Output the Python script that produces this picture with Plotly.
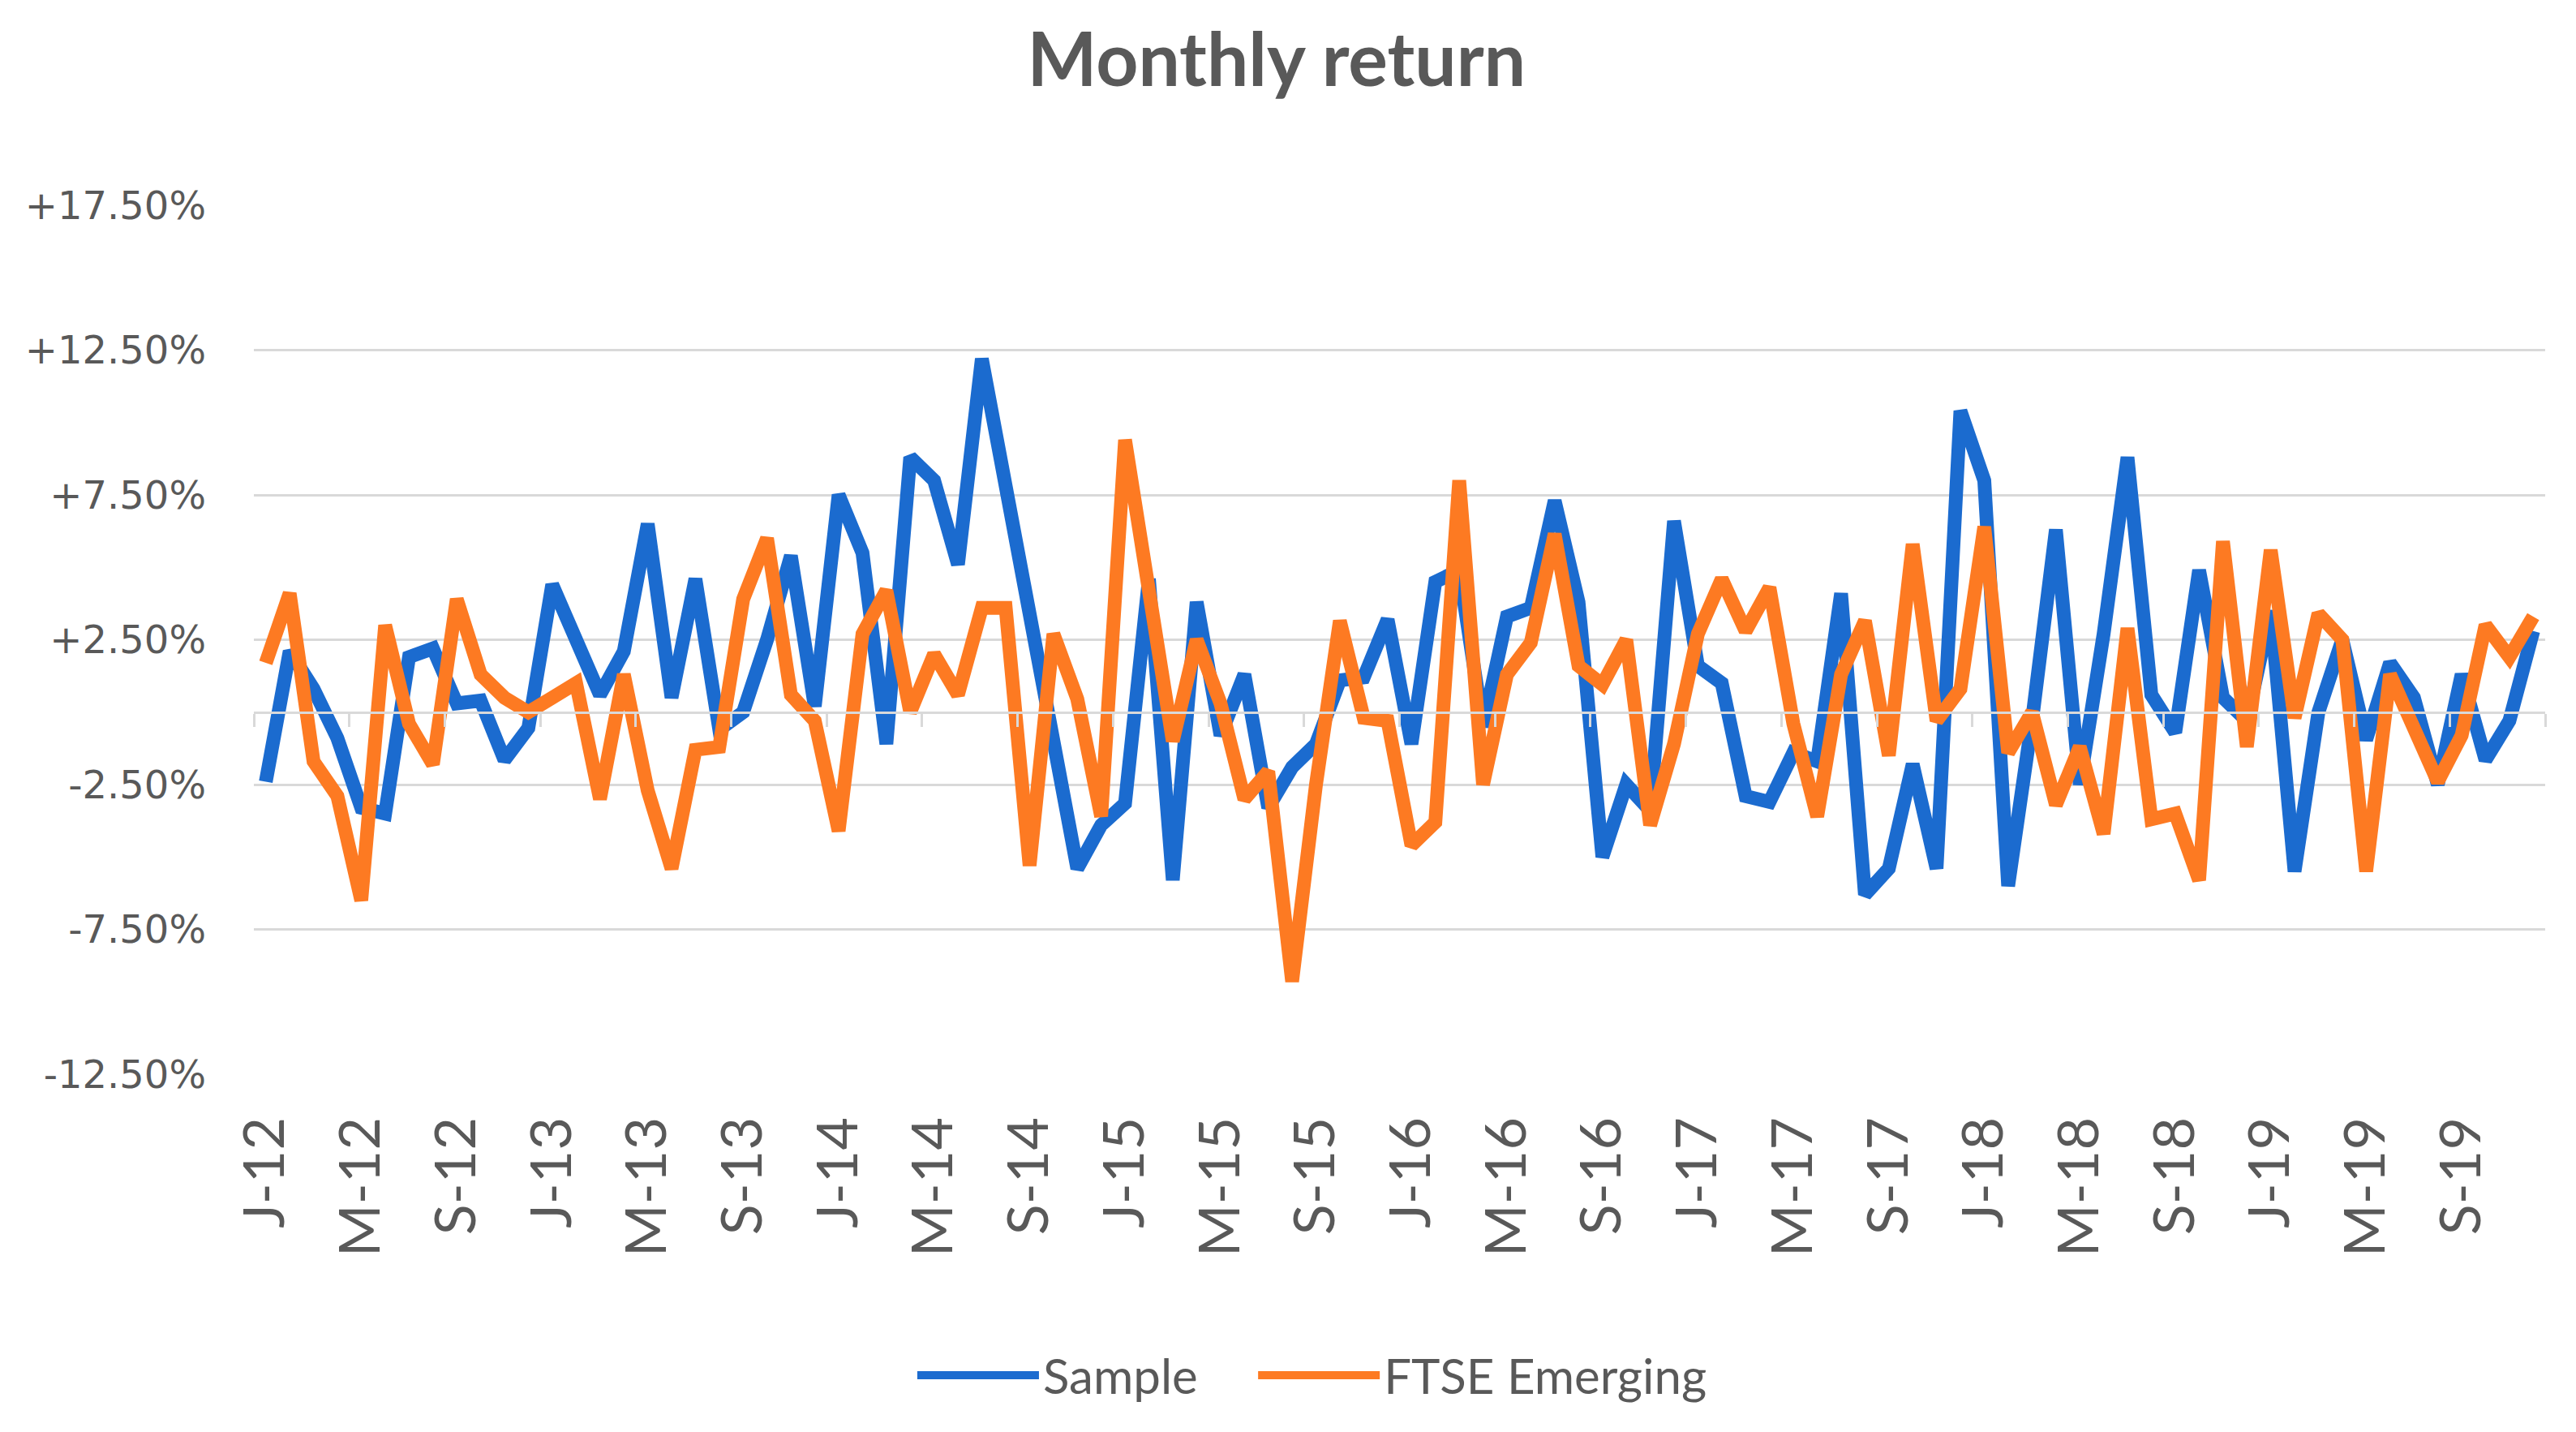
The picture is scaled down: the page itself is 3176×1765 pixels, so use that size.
import plotly.graph_objects as go

# Months Jan-2012 .. Dec-2019
years = list(range(2012, 2020))
month_letters = ["J", "F", "M", "A", "M", "J", "J", "A", "S", "O", "N", "D"]
categories = [f"{m}-{str(y)[2:]}" for y in years for m in month_letters]

# Monthly returns in percent
sample = [
    -2.4, 2.1, 0.8, -0.9, -3.3, -3.5, 1.9, 2.2, 0.3, 0.4, -1.65, -0.55,
    4.4, 2.4, 0.6, 2.1, 6.5, 0.5, 4.6, -0.6, 0.0, 2.5, 5.4, 0.2,
    7.5, 5.5, -1.1, 8.8, 8.0, 5.1, 12.2, 7.8, 3.4, -0.8, -5.4, -3.9,
    -3.15, 4.6, -5.8, 3.8, -0.8, 1.3, -3.3, -1.9, -1.1, 1.1, 1.2, 3.2,
    -1.1, 4.5, 4.9, -0.5, 3.3, 3.6, 7.3, 3.8, -5.0, -2.5, -3.4, 6.6,
    1.6, 1.0, -2.9, -3.1, -1.4, -1.7, 4.1, -6.3, -5.4, -1.8, -5.4, 10.4,
    8.0, -6.0, -0.3, 6.3, -2.5, 2.7, 8.8, 0.6, -0.7, 4.9, 0.5, -0.3,
    3.5, -5.5, 0.0, 2.5, -0.95, 1.7, 0.5, -2.5, 1.3, -1.65, -0.3, 2.8,
]
ftse_emerging = [
    1.7, 4.1, -1.7, -2.9, -6.5, 3.0, -0.4, -1.8, 3.9, 1.3, 0.5, 0.0,
    0.5, 1.0, -3.0, 1.3, -2.7, -5.4, -1.3, -1.2, 3.9, 6.0, 0.6, -0.3,
    -4.1, 2.7, 4.2, 0.0, 2.0, 0.6, 3.6, 3.6, -5.3, 2.7, 0.45, -3.6,
    9.4, 4.3, -1.0, 2.5, 0.3, -3.0, -2.05, -9.3, -2.5, 3.15, -0.2, -0.3,
    -4.6, -3.8, 8.0, -2.5, 1.3, 2.4, 6.15, 1.6, 0.95, 2.5, -3.9, -1.1,
    2.7, 4.6, 2.8, 4.3, -0.4, -3.6, 1.3, 3.15, -1.5, 5.8, -0.3, 0.8,
    6.4, -1.4, 0.0, -3.2, -1.2, -4.2, 2.9, -3.7, -3.5, -5.8, 5.9, -1.2,
    5.6, -0.2, 3.4, 2.5, -5.5, 1.3, -0.6, -2.4, -0.8, 3.0, 1.9, 3.3,
]

y_ticks = [17.5, 12.5, 7.5, 2.5, -2.5, -7.5, -12.5]
y_ticktext = ["+17.50%", "+12.50%", "+7.50%", "+2.50%", "-2.50%", "-7.50%", "-12.50%"]

label_step = 4
x_idx = list(range(len(categories)))
x_tickvals = x_idx[::label_step]
x_ticktext = categories[::label_step]
boundary_ticks = [i - 0.5 for i in range(0, len(categories) + 1, label_step)]

TEXT = "#595959"
GRID = "#d9d9d9"
BLUE = "#1b6bcf"
ORANGE = "#fd7a22"

fig = go.Figure()
fig.add_trace(go.Scatter(x=x_idx, y=sample, name="Sample", mode="lines",
                         line=dict(color=BLUE, width=17), legend="legend"))
fig.add_trace(go.Scatter(x=x_idx, y=ftse_emerging, name="FTSE Emerging", mode="lines",
                         line=dict(color=ORANGE, width=17), legend="legend2"))
# helper axis trace (empty) so the zero-crossing category axis is drawn
fig.add_trace(go.Scatter(x=[], y=[], xaxis="x2", showlegend=False, hoverinfo="skip"))

legend_style = dict(orientation="h", xref="container", yref="container",
                    y=1 - 1687 / 1765, xanchor="left", yanchor="middle",
                    font=dict(family="Lato", size=60, color=TEXT),
                    itemwidth=150, bgcolor="rgba(0,0,0,0)")

y_min, y_max = -12.5, 17.5
fig.update_layout(
    width=3176, height=1765,
    paper_bgcolor="white", plot_bgcolor="white",
    margin=dict(l=305, r=46, t=245, b=449),
    title=dict(text="<b>Monthly return</b>", x=0.493, xref="container", xanchor="center",
               y=1 - 66 / 1765, yref="container", yanchor="middle",
               font=dict(family="Lato", size=91, color=TEXT)),
    font=dict(family="Lato", color=TEXT),
    xaxis=dict(range=[-0.5, len(categories) - 0.5], tickmode="array",
               tickvals=x_tickvals, ticktext=x_ticktext, tickangle=-90,
               tickfont=dict(family="Lato", size=70, color=TEXT),
               showgrid=False, zeroline=False, showline=False, ticks="",
               ticklabelstandoff=38),
    xaxis2=dict(overlaying="x", anchor="free", position=(0 - y_min) / (y_max - y_min),
                range=[-0.5, len(categories) - 0.5], tickmode="array",
                tickvals=boundary_ticks, showticklabels=False, ticks="outside",
                ticklen=16, tickwidth=3, tickcolor=GRID, showline=True,
                linecolor=GRID, linewidth=3, showgrid=False, zeroline=False),
    yaxis=dict(range=[y_min, y_max], tickmode="array", tickvals=y_ticks,
               ticktext=y_ticktext, tickfont=dict(family="DejaVu Sans", size=48, color=TEXT),
               showgrid=True, gridcolor=GRID, gridwidth=3, zeroline=False,
               showline=False, ticks="", ticklabelstandoff=58),
    legend=dict(x=0.352, **legend_style),
    legend2=dict(x=0.4843, **legend_style),
    showlegend=True,
)

fig.write_html("out.html")
